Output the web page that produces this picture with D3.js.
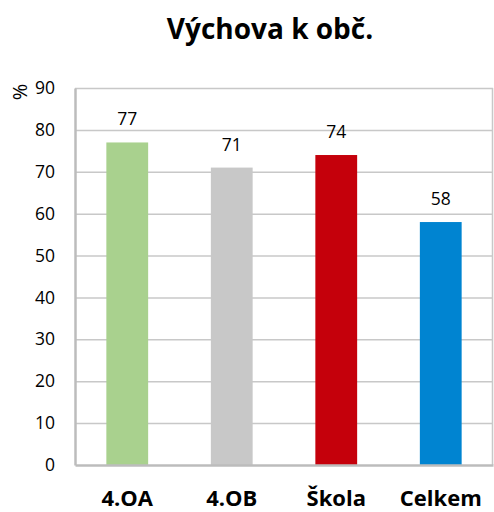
<!DOCTYPE html>
<html><head><meta charset="utf-8">
<script src="https://cdn.jsdelivr.net/npm/d3@7"></script>
<style>body{margin:0;background:#fff}svg{display:block}</style>
</head><body>
<script>
const categories = ["4.OA", "4.OB", "Škola", "Celkem"];
const values = [77, 71, 74, 58];
const colors = ["#a9d18e", "#c8c8c8", "#c5000b", "#0084d1"];
const yTicks = [0, 10, 20, 30, 40, 50, 60, 70, 80, 90];
const title = "Výchova k obč.";
const yLabel = "%";

const W = 494, H = 512;
const m = {left: 75, right: 1, top: 88, bottom: 47};
const font = "'Open Sans', sans-serif";
const svg = d3.select("body").append("svg").attr("width", W).attr("height", H);

const x = d3.scaleBand().domain(categories).range([m.left, W - m.right]).paddingInner(0.6).paddingOuter(0.3);
const y = d3.scaleLinear().domain([0, 90]).range([H - m.bottom, m.top]);

// gridlines
svg.append("g").selectAll("line").data(yTicks.filter(d => d > 0)).join("line")
  .attr("x1", m.left).attr("x2", W - m.right)
  .attr("y1", d => y(d) + 0.5).attr("y2", d => y(d) + 0.5)
  .attr("stroke", "#c8c8c8").attr("stroke-width", 1.5);
// right border
svg.append("line").attr("x1", W - m.right - 0.5).attr("x2", W - m.right - 0.5)
  .attr("y1", y(90)).attr("y2", y(0)).attr("stroke", "#c8c8c8").attr("stroke-width", 1.5);

// bars
svg.append("g").selectAll("rect").data(values).join("rect")
  .attr("x", (d, i) => x(categories[i])).attr("width", x.bandwidth())
  .attr("y", d => y(d)).attr("height", d => y(0) - y(d))
  .attr("fill", (d, i) => colors[i]);

// axes
const yAxis = d3.axisLeft(y).tickValues(yTicks).tickSize(0).tickPadding(20);
const gy = svg.append("g").attr("transform", `translate(${m.left},0)`).call(yAxis);
gy.select(".domain").attr("stroke", "#bcbcbc").attr("stroke-width", 2.5);
gy.selectAll("text").attr("font-family", font).attr("font-size", 17.5).attr("fill", "#000");

const xAxis = d3.axisBottom(x).tickSize(0).tickPadding(25);
const gx = svg.append("g").attr("transform", `translate(0,${y(0)})`).call(xAxis);
gx.select(".domain").attr("stroke", "#bcbcbc").attr("stroke-width", 2.5);
gx.selectAll("text").attr("font-family", font).attr("font-size", 22).attr("font-weight", "bold").attr("fill", "#000");

// value labels
svg.append("g").selectAll("text").data(values).join("text")
  .attr("x", (d, i) => x(categories[i]) + x.bandwidth() / 2)
  .attr("y", d => y(d) - 17)
  .attr("text-anchor", "middle").attr("font-family", font).attr("font-size", 17.5).attr("fill", "#000")
  .text(d => d);

// title
svg.append("text").attr("x", 270).attr("y", 39).attr("text-anchor", "middle")
  .attr("font-family", font).attr("font-size", 28).attr("font-weight", "bold").attr("fill", "#000")
  .text(title);

// y label
svg.append("text").attr("transform", "translate(27,92) rotate(-90)").attr("text-anchor", "middle")
  .attr("font-family", font).attr("font-size", 20).attr("fill", "#000").text(yLabel);
</script>
</body></html>
